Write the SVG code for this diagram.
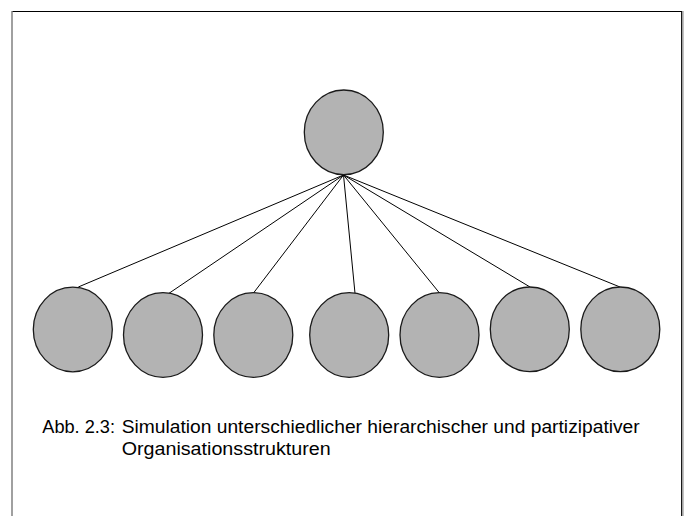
<svg xmlns="http://www.w3.org/2000/svg" width="686" height="516" viewBox="0 0 686 516">
<style>
.node ellipse{fill:#b3b3b3;stroke:#1a1a1a;stroke-width:1.3}
.conn line{stroke:#000;stroke-width:1}
.cap{font-family:"Liberation Sans",Arial,sans-serif;font-size:17.5px;fill:#000}
</style>
<rect x="0" y="0" width="686" height="516" fill="#fff"/>
<line x1="12" y1="11.5" x2="682" y2="11.5" stroke="#000" stroke-width="1.2"/>
<line x1="12" y1="11" x2="12" y2="516" stroke="#808080" stroke-width="1.5"/>
<line x1="681.7" y1="11" x2="681.7" y2="516" stroke="#000" stroke-width="1.2"/>
<line x1="683" y1="11" x2="683" y2="516" stroke="#999" stroke-width="1.2"/>
<g class="conn">
<line x1="343.5" y1="175" x2="78.3" y2="287"/>
<line x1="343.5" y1="175" x2="169" y2="293.3"/>
<line x1="343.5" y1="175" x2="253.5" y2="293"/>
<line x1="343.5" y1="175" x2="355" y2="293.3"/>
<line x1="343.5" y1="175" x2="439.5" y2="293"/>
<line x1="343.5" y1="175" x2="530" y2="287"/>
<line x1="343.5" y1="175" x2="620" y2="287"/>
</g>
<g id="top" class="node"><ellipse cx="343.8" cy="132.3" rx="39.5" ry="42.3"/></g>
<g id="n1" class="node"><ellipse cx="72.8" cy="329.5" rx="39.5" ry="42.3"/></g>
<g id="n2" class="node"><ellipse cx="163" cy="335" rx="39.5" ry="42.3"/></g>
<g id="n3" class="node"><ellipse cx="253.3" cy="335" rx="39.5" ry="42.3"/></g>
<g id="n4" class="node"><ellipse cx="349.2" cy="335" rx="39.5" ry="42.3"/></g>
<g id="n5" class="node"><ellipse cx="439.5" cy="335" rx="39.5" ry="42.3"/></g>
<g id="n6" class="node"><ellipse cx="529.8" cy="329.3" rx="39.5" ry="42.3"/></g>
<g id="n7" class="node"><ellipse cx="620.3" cy="329.3" rx="39.5" ry="42.3"/></g>
<g id="caption" class="cap">
<text x="42.3" y="433.3" textLength="72.7" lengthAdjust="spacingAndGlyphs">Abb. 2.3:</text>
<text x="121.7" y="433.3" textLength="518" lengthAdjust="spacingAndGlyphs">Simulation unterschiedlicher hierarchischer und partizipativer</text>
<text x="121.7" y="454.5" textLength="209" lengthAdjust="spacingAndGlyphs">Organisationsstrukturen</text>
</g>
</svg>
